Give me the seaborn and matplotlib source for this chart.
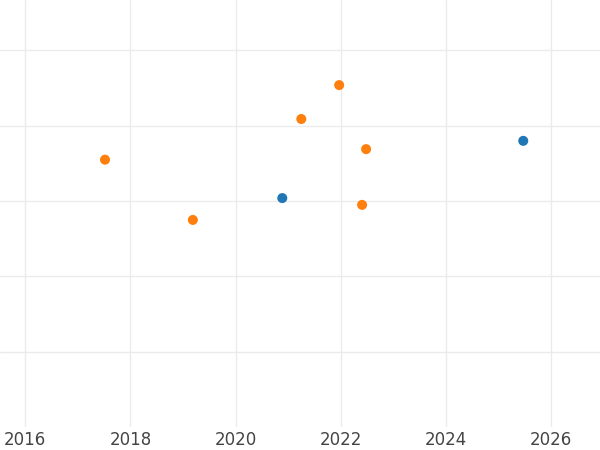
import pandas as pd
import seaborn as sns
import matplotlib.pyplot as plt
import matplotlib.dates as mdates

# points
dates_blue = ['2020-11-20', '2025-06-20']
values_blue = [3.04, 3.80]
dates_orange = ['2017-07-08', '2019-03-10', '2021-04-01', '2021-12-20', '2022-05-28', '2022-06-25']
values_orange = [3.55, 2.75, 4.09, 4.54, 2.95, 3.69]
groups = ['a', 'b']

df = pd.DataFrame({
    'date': pd.to_datetime(dates_blue + dates_orange),
    'value': values_blue + values_orange,
    'group': [groups[0]] * len(dates_blue) + [groups[1]] * len(dates_orange),
})

sns.set_style('white')
plt.rcParams['font.family'] = ['DejaVu Sans']

fig = plt.figure(figsize=(6, 4.5), dpi=100)
ax = fig.add_axes([0, 0.051, 1, 0.949])

sns.scatterplot(
    data=df, x='date', y='value', hue='group',
    palette=['#1f77b4', '#ff7f0e'], s=52, linewidth=0,
    legend=False, ax=ax, zorder=3,
)

ax.set_xlim(pd.Timestamp('2015-07-10'), pd.Timestamp('2026-12-05'))
ax.set_ylim(0, 5.67)
ax.xaxis.set_major_locator(mdates.YearLocator(2))
ax.xaxis.set_major_formatter(mdates.DateFormatter('%Y'))
ax.set_yticks([1, 2, 3, 4, 5])
ax.set_yticklabels([])
ax.grid(True, color='#ebebeb', linewidth=1)
ax.set_axisbelow(True)
ax.tick_params(length=0, labelsize=12, labelcolor='#444444', pad=3)
ax.set_xlabel('')
ax.set_ylabel('')
for sp in ax.spines.values():
    sp.set_visible(False)

fig.savefig('out.png', dpi=100)
